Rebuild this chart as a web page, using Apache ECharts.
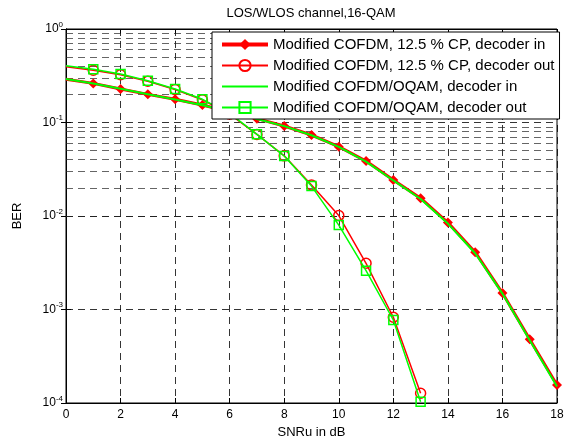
<!DOCTYPE html>
<html>
<head>
<meta charset="utf-8">
<script src="https://cdn.jsdelivr.net/npm/echarts@6/dist/echarts.min.js"></script>
<style>html,body{margin:0;padding:0;background:#fff;}#chart{width:574px;height:445px;}</style>
</head>
<body>
<div id="chart"></div>
<script>
// ---- data ----
const titleText = 'LOS/WLOS channel,16-QAM';
const xName = 'SNRu in dB';
const yName = 'BER';
const snr = [0,1,2,3,4,5,6,7,8,9,10,11,12,13,14,15,16,17,18];
const seriesNames = [
  'Modified COFDM, 12.5 % CP, decoder in',
  'Modified COFDM, 12.5 % CP, decoder out',
  'Modified COFDM/OQAM, decoder in',
  'Modified COFDM/OQAM, decoder out'
];
const cofdmIn  = [0.290,0.262,0.228,0.200,0.177,0.154,0.130,0.110,0.0918,0.0735,0.0551,0.0387,0.0243,0.0155,0.0085,0.0041,0.0015,0.00048,0.000156];
const cofdmOut = [0.395,0.362,0.324,0.276,0.225,0.175,0.123,0.0745,0.0440,0.0215,0.0101,0.00312,0.000826,0.000127];
const oqamIn   = [0.292,0.261,0.229,0.201,0.176,0.153,0.131,0.109,0.0915,0.0730,0.0548,0.0382,0.0240,0.0152,0.0083,0.0040,0.00148,0.00047,0.000150];
const oqamOut  = [0.405,0.371,0.330,0.280,0.228,0.177,0.125,0.0748,0.0438,0.0209,0.0080,0.0026,0.000772,0.000103];

// ---- build ----
function pts(arr){
  return arr.map((v,i)=> i===0 ? {value:[snr[i],v], symbol:'none'} : [snr[i],v]);
}
const minorVals = [];
for (let k=-4;k<=-1;k++){ for (let d=2; d<=9; d++){ minorVals.push(d*Math.pow(10,k)); } }

const FONT = '"Liberation Sans", Arial, sans-serif';
const chart = echarts.init(document.getElementById('chart'), null, {renderer:'canvas'});
const dash = [7,5];
const axisCommonX = {type:'value', min:0, max:18, interval:2};
const axisCommonY = {type:'log', logBase:10, min:0.0001, max:1};

const option = {
  animation:false,
  backgroundColor:'#fff',
  textStyle:{fontFamily:FONT},
  title:{text:titleText, left:311, top:7, textAlign:'center', padding:0,
    textStyle:{fontSize:13, fontWeight:'normal', color:'#000', fontFamily:FONT}},
  grid:{left:66, right:17, top:29, bottom:42, show:true, borderColor:'#000', borderWidth:1, backgroundColor:'#fff'},
  legend:{
    data:[
      {name:seriesNames[0], lineStyle:{width:4}},
      {name:seriesNames[1]},
      {name:seriesNames[2], itemStyle:{opacity:0}},
      {name:seriesNames[3]}
    ],
    orient:'vertical', left:212, top:32, z:50, zlevel:0,
    padding:[5,5,4,8], itemWidth:46, itemHeight:14, itemGap:6,
    backgroundColor:'#fff', borderColor:'#000', borderWidth:1, borderRadius:0,
    textStyle:{fontSize:15, color:'#000', fontFamily:FONT}
  },
  xAxis:[
    Object.assign({}, axisCommonX, {position:'bottom',
      axisLine:{show:true, lineStyle:{color:'#000', width:1}},
      axisTick:{show:true, inside:true, length:5, lineStyle:{color:'#000'}},
      axisLabel:{color:'#000', fontSize:12, margin:6, fontFamily:FONT},
      splitLine:{show:true, lineStyle:{color:'#000', width:0.8, type:dash}},
      name:xName, nameLocation:'middle', nameGap:23,
      nameTextStyle:{color:'#000', fontSize:13, fontFamily:FONT}}),
    Object.assign({}, axisCommonX, {position:'top',
      axisLine:{show:true, lineStyle:{color:'#000', width:1}},
      axisTick:{show:true, inside:true, length:5, lineStyle:{color:'#000'}},
      axisLabel:{show:false}, splitLine:{show:false}})
  ],
  yAxis:[
    Object.assign({}, axisCommonY, {position:'left',
      axisLine:{show:true, lineStyle:{color:'#000', width:1}},
      axisTick:{show:true, inside:true, length:5, lineStyle:{color:'#000'}},
      axisLabel:{color:'#000', margin:3, fontFamily:FONT,
        formatter:function(v){ const e=Math.round(Math.log10(v)); return '{b|10}{s|'+e+'}'; },
        rich:{b:{fontSize:12, color:'#000', fontFamily:FONT}, s:{fontSize:8, color:'#000', fontFamily:FONT, padding:[0,0,9,0]}}},
      splitLine:{show:true, lineStyle:{color:'#000', width:0.8, type:dash}},
      minorTick:{show:false}, minorSplitLine:{show:false},
      name:yName, nameLocation:'middle', nameGap:42,
      nameTextStyle:{color:'#000', fontSize:13, fontFamily:FONT}}),
    Object.assign({}, axisCommonY, {position:'right',
      axisLine:{show:true, lineStyle:{color:'#000', width:1}},
      axisTick:{show:true, inside:true, length:5, lineStyle:{color:'#000'}},
      axisLabel:{show:false}, splitLine:{show:false}})
  ],
  series:[
    {name:'minor-grid', type:'line', data:[], z:1, silent:true, xAxisIndex:0, yAxisIndex:0,
      markLine:{silent:true, symbol:'none', animation:false, label:{show:false}, z:1,
        lineStyle:{color:'#222', width:0.7, type:dash},
        emphasis:{disabled:true},
        data:minorVals.map(v=>({yAxis:v}))}},
    {name:seriesNames[0], type:'line', data:pts(cofdmIn), z:3,
      symbol:'diamond', symbolSize:10,
      lineStyle:{color:'#ff0000', width:3}, itemStyle:{color:'#ff0000'}},
    {name:seriesNames[1], type:'line', data:pts(cofdmOut), z:4,
      symbol:'circle', symbolSize:10,
      lineStyle:{color:'#ff0000', width:1.5}, itemStyle:{color:'transparent', borderColor:'#ff0000', borderWidth:1.5}},
    {name:seriesNames[2], type:'line', data:pts(oqamIn), z:5,
      symbol:'none', showSymbol:false,
      lineStyle:{color:'#00ff00', width:2}, itemStyle:{color:'#00ff00'}},
    {name:seriesNames[3], type:'line', data:pts(oqamOut), z:6,
      symbol:'rect', symbolSize:9,
      lineStyle:{color:'#00ff00', width:1.5}, itemStyle:{color:'transparent', borderColor:'#00ff00', borderWidth:1.5}}
  ]
};
chart.setOption(option);
</script>
</body>
</html>
